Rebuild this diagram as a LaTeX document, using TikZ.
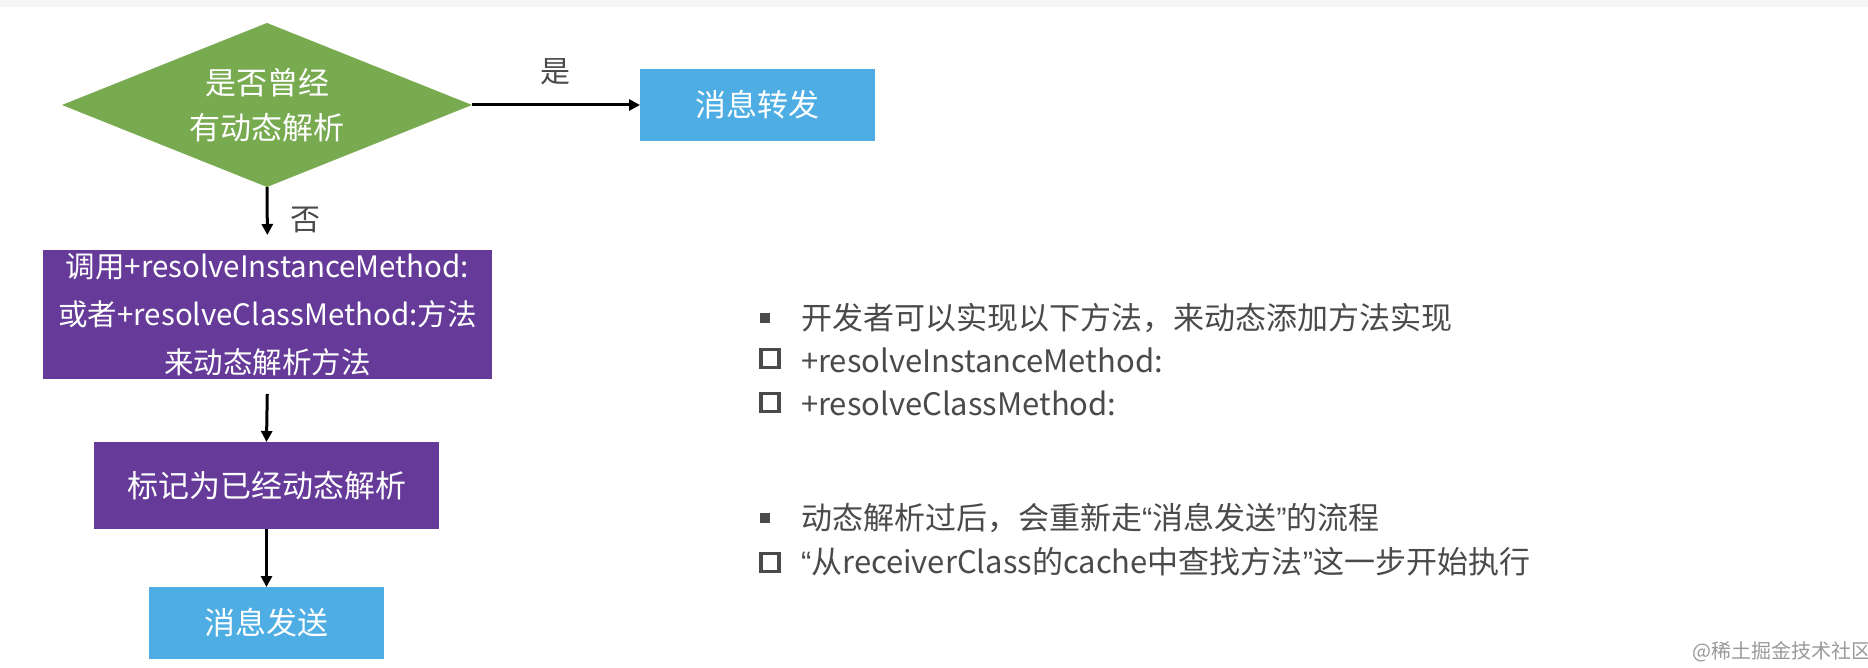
\documentclass[tikz,border=0pt]{standalone}
\usepackage{fontspec}
\setmainfont{Noto Sans CJK SC}
\newfontfamily\quotefont{Liberation Sans}
\newcommand{\lquo}{{\quotefont “}}
\newcommand{\rquo}{{\quotefont ”}}
\usetikzlibrary{shapes.geometric,arrows.meta}
\definecolor{leafgreen}{HTML}{78AA50}
\definecolor{skyblue}{HTML}{4EAEE4}
\definecolor{grape}{HTML}{663A99}
\definecolor{inkgrey}{HTML}{4A4A4A}

\begin{document}
\begin{tikzpicture}[x=1pt, y=-1pt,
    every node/.style={inner sep=0pt, outer sep=0pt},
    decision/.style={diamond, aspect=2.5, fill=leafgreen, minimum width=410pt, minimum height=164pt, text=white, align=center, font=\fontsize{31}{45}\selectfont},
    box/.style={rectangle, text=white, align=center, font=\fontsize{31}{37}\selectfont},
    msgbox/.style={box, fill=skyblue, minimum width=235pt, minimum height=72pt},
    stepbox/.style={box, fill=grape},
    arr/.style={line width=3pt, -{Triangle[length=11pt,width=11pt]}},
    tag/.style={text=inkgrey, font=\fontsize{30}{36}\selectfont},
    note/.style={anchor=west, text=inkgrey, font=\fontsize{31}{36}\selectfont},
    dot/.style={fill=inkgrey, minimum size=10pt},
    tick/.style={draw=inkgrey, line width=3.5pt, minimum size=18pt}]
          % Frame
          \fill[black!4] (0,0) rectangle (1868,7);
          \useasboundingbox (0,0) rectangle (1868,668);

          % Nodes
          \node[decision] (q) at (267,105) {是否曾经\\有动态解析};
          \node[msgbox] (fwd) at (757.5,105) {消息转发};
          \node[stepbox, minimum width=449pt, minimum height=129pt, font=\fontsize{29.5}{48}\selectfont] (call) at (267.5,314.5) {调用+resolveInstanceMethod:\\或者+resolveClassMethod:方法\\来动态解析方法};
          \node[stepbox, minimum width=345pt, minimum height=87pt] (mark) at (266.5,485.5) {标记为已经动态解析};
          \node[msgbox] (send) at (266.5,623) {消息发送};
          \node[tag] (yes) at (555,72) {是};
          \node[tag] (no) at (305,220) {否};

          % Notes
          \node[dot] (d1) at (765,318) {};
          \node[note] (n1) at (801,318) {开发者可以实现以下方法，来动态添加方法实现};
          \node[tick] (t1) at (770,358.5) {};
          \node[note] (n2) at (801,360) {+resolveInstanceMethod:};
          \node[tick] (t2) at (770,402.5) {};
          \node[note] (n3) at (801,403) {+resolveClassMethod:};
          \node[dot] (d2) at (765,518) {};
          \node[note] (n4) at (801,518) {动态解析过后，会重新走\lquo 消息发送\rquo 的流程};
          \node[tick] (t3) at (770,562.5) {};
          \node[note] (n5) at (801,562) {\lquo 从receiverClass的cache中查找方法\rquo 这一步开始执行};
          \node[text=black!40, font=\fontsize{20}{24}\selectfont] (credit) at (1782,652) {@稀土掘金技术社区};

          % Edges
          \draw[arr] (q.east) -- (fwd.west);
          \draw[arr, shorten >=15pt] (q.south) -- (call.north);
          \draw[arr, shorten <=15pt] (call.south) -- (mark.north);
          \draw[arr] (mark.south) -- (send.north);
      \end{tikzpicture}
\end{document}
